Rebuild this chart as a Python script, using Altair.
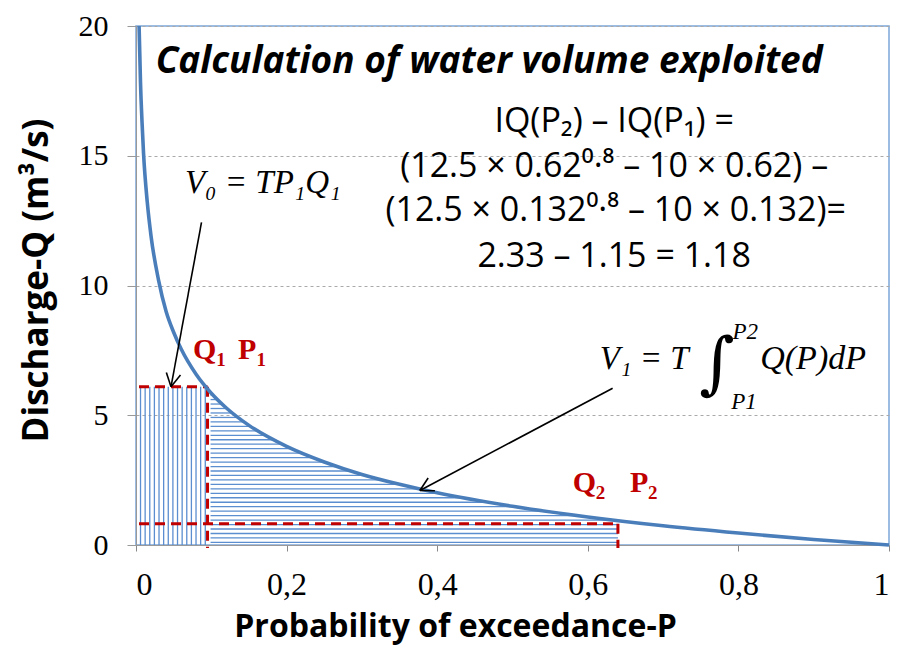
import altair as alt
import numpy as np
import pandas as pd

# ---- data ----
P_curve = [0.0041, 0.006, 0.008, 0.01, 0.015, 0.02, 0.03, 0.04, 0.05, 0.06, 0.08,
           0.1, 0.12, 0.15, 0.2, 0.25, 0.3, 0.35, 0.4, 0.5, 0.6, 0.7, 0.8, 0.9, 1.0]
Q_curve = [20.0, 17.8, 16.3, 15.1, 13.2, 11.9, 10.2, 9.0, 8.2, 7.55, 6.57,
           5.85, 5.28, 4.61, 3.80, 3.20, 2.72, 2.34, 2.01, 1.49, 1.08, 0.74, 0.46, 0.21, 0.0]
P1, Q1 = 0.095, 6.1
P2, Q2 = 0.64, 0.82
x_ticks = [0, 0.2, 0.4, 0.6, 0.8, 1]
y_ticks = [0, 5, 10, 15, 20]

W, H = 753, 519
XMAX, YMAX = 1.0, 20.0

BLUE = "#4a7ebb"
HATCH = "#5b8ed0"
RED = "#c00000"

xs = alt.Scale(domain=[0, XMAX], nice=False, zero=False)
ys = alt.Scale(domain=[0, YMAX], nice=False)

x_axis = alt.Axis(values=x_ticks, title="Probability of exceedance-P",
                  labelExpr="replace(toString(datum.value), '.', ',')",
                  labelFont="Liberation Serif", labelFontSize=32, labelColor="black",
                  labelPadding=18, tickSize=6, tickColor="#888", domainColor="#999",
                  grid=False, titleFont="Open Sans", titleFontSize=32,
                  titleFontWeight="bold", titleColor="black",
                  titleX=319, titleY=91, titleAlign="center", titleBaseline="alphabetic")
y_axis = alt.Axis(values=y_ticks, title="Discharge-Q (m³/s)",
                  labelFont="Liberation Serif", labelFontSize=30, labelColor="black",
                  labelPadding=19, tickSize=9, tickColor="#999", domainColor="#999",
                  grid=True, gridDash=[3, 3], gridColor="#aaa", gridWidth=1,
                  titleFont="Open Sans", titleFontSize=35, titleFontWeight="bold",
                  titleColor="black", titleX=-100, titleY=254, titleAngle=270,
                  titleAlign="center", titleBaseline="middle")


def X(f):
    return alt.X(f, type="quantitative", scale=xs, axis=x_axis)


def Y(f):
    return alt.Y(f, type="quantitative", scale=ys, axis=y_axis)


# ---- curve ----
curve_df = pd.DataFrame({"p": P_curve, "q": Q_curve})
curve = alt.Chart(curve_df).mark_line(color=BLUE, strokeWidth=3.6, interpolate="monotone").encode(
    x=X("p"), y=Y("q"))

# ---- hatching ----
pv = np.linspace(0.006, 0.092, 15)
vh = pd.DataFrame({"p": pv, "q": 0.0, "q2": Q1})
vhatch = alt.Chart(vh).mark_rule(color=HATCH, strokeWidth=1.3).encode(
    x=X("p"), y=Y("q"), y2="q2")

qlev = np.arange(0.1, 6.05, 0.172)
P_rev = np.array(P_curve)[::-1]
Q_rev = np.array(Q_curve)[::-1]
pend = np.minimum(np.interp(qlev, Q_rev, P_rev), P2)
hh = pd.DataFrame({"p": P1 + 0.004, "p2": pend, "q": qlev})
hhatch = alt.Chart(hh).mark_rule(color=HATCH, strokeWidth=1.3).encode(
    x=X("p"), x2="p2", y=Y("q"))

# ---- red dashed guides ----
red_df = pd.DataFrame({
    "p": [0.004, P1, 0.004, P2],
    "p2": [P1, P1, P2, P2],
    "q": [Q1, Q1, Q2, Q2],
    "q2": [Q1, -0.12, Q2, -0.12],
})
red = alt.Chart(red_df).mark_rule(color=RED, strokeWidth=3, strokeDash=[10, 6]).encode(
    x=X("p"), x2="p2", y=Y("q"), y2="q2")


# ---- arrows ----
def to_px(p, q):
    return p * W / XMAX, H - q * H / YMAX


def to_data(x, y):
    return x * XMAX / W, (H - y) * YMAX / H


arrows = [((0.087, 12.43), (0.0465, 6.1)), ((0.633, 6.04), (0.377, 2.10))]
rows = []
for (a, b) in arrows:
    rows.append({"p": a[0], "q": a[1], "p2": b[0], "q2": b[1]})
    x0, y0 = to_px(*a)
    x1, y1 = to_px(*b)
    dx, dy = x0 - x1, y0 - y1
    L = (dx ** 2 + dy ** 2) ** 0.5
    ux, uy = dx / L, dy / L
    for ang in (0.5, -0.5):
        c, s = np.cos(ang), np.sin(ang)
        hx = x1 + 15 * (ux * c - uy * s)
        hy = y1 + 15 * (ux * s + uy * c)
        hp, hq = to_data(hx, hy)
        rows.append({"p": b[0], "q": b[1], "p2": hp, "q2": hq})
arrow_df = pd.DataFrame(rows)
arrow = alt.Chart(arrow_df).mark_rule(color="black", strokeWidth=1.6).encode(
    x=X("p"), x2="p2", y=Y("q"), y2="q2")


# ---- texts ----
def txt(text, p, q, font, size, weight="normal", style="normal", color="black",
        align="left", baseline="alphabetic"):
    df = pd.DataFrame({"p": [p], "q": [q], "t": [text]})
    return alt.Chart(df).mark_text(font=font, fontSize=size, fontWeight=weight,
                                   fontStyle=style, color=color, align=align,
                                   baseline=baseline).encode(
        x=X("p"), y=Y("q"), text="t:N")


texts = [
    txt("Calculation of water volume exploited", 0.469, 18.2, "Open Sans", 37,
        weight="bold", style="italic", align="center"),
    txt("IQ(P₂) – IQ(P₁) =", 0.635, 15.9, "Open Sans", 34, align="center"),
    txt("(12.5 × 0.62⁰·⁸ – 10 × 0.62) –", 0.635, 14.2, "Open Sans", 34, align="center"),
    txt("(12.5 × 0.132⁰·⁸ – 10 × 0.132)=", 0.637, 12.48, "Open Sans", 34, align="center"),
    txt("2.33 – 1.15 = 1.18", 0.635, 10.72, "Open Sans", 34, align="center"),
    txt("V₀ = TP₁Q₁", 0.065, 13.55, "Liberation Serif", 33, style="italic"),
    txt("V₁ = T", 0.616, 6.77, "Liberation Serif", 33, style="italic"),
    txt("∫", 0.748, 6.88, "DejaVu Serif", 68, baseline="middle"),
    txt("P2", 0.792, 7.92, "Liberation Serif", 23, style="italic"),
    txt("P1", 0.7905, 5.24, "Liberation Serif", 23, style="italic"),
    txt("Q(P)dP", 0.829, 6.77, "Liberation Serif", 34, style="italic"),
    txt("Q", 0.0757, 7.15, "Liberation Serif", 30, weight="bold", color=RED),
    txt("1", 0.1065, 6.88, "Liberation Serif", 19, weight="bold", color=RED),
    txt("P", 0.1355, 7.15, "Liberation Serif", 30, weight="bold", color=RED),
    txt("1", 0.160, 6.88, "Liberation Serif", 19, weight="bold", color=RED),
    txt("Q", 0.580, 2.03, "Liberation Serif", 30, weight="bold", color=RED),
    txt("2", 0.6105, 1.78, "Liberation Serif", 19, weight="bold", color=RED),
    txt("P", 0.656, 2.03, "Liberation Serif", 30, weight="bold", color=RED),
    txt("2", 0.680, 1.78, "Liberation Serif", 19, weight="bold", color=RED),
]

chart = alt.layer(vhatch, hhatch, red, curve, arrow, *texts).properties(
    width=W, height=H,
    autosize=alt.AutoSizeParams(type="none"),
    padding={"left": 128, "top": 18, "right": 8, "bottom": 110},
).configure_view(stroke="#7ea6d8", strokeWidth=1.5).configure_axis(zindex=1)

chart.save("out.html", embed_options={"renderer": "svg", "actions": False})
